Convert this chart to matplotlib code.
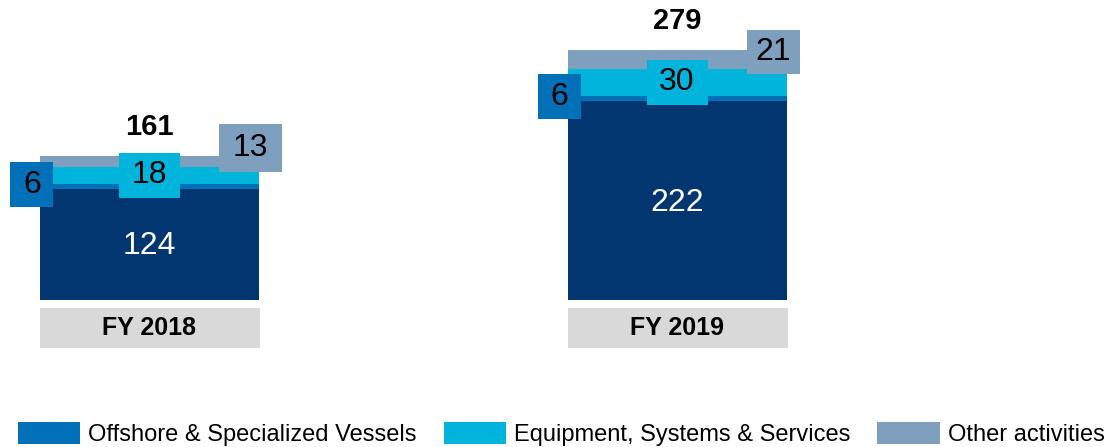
import matplotlib
matplotlib.use("Agg")
import matplotlib.pyplot as plt
from matplotlib.patches import Rectangle, Patch

plt.rcParams['font.family'] = ['Liberation Sans', 'DejaVu Sans']

# ---- data ----
categories = ["FY 2018", "FY 2019"]
base_vals = [124, 222]          # main (navy) segment
offshore_vals = [6, 6]          # Offshore & Specialized Vessels
equipment_vals = [18, 30]       # Equipment, Systems & Services
other_vals = [13, 21]           # Other activities
totals = [161, 279]
legend_labels = ["Offshore & Specialized Vessels",
                 "Equipment, Systems & Services",
                 "Other activities"]

# ---- style ----
C_NAVY = "#023670"
C_OFF = "#0070b8"
C_EQ = "#00b4dc"
C_OTH = "#7f9fbf"
C_CAT = "#d9d9d9"

W, H = 1111, 447
fig = plt.figure(figsize=(W / 100, H / 100), dpi=100)
ax = fig.add_axes([0, 0, 1, 1])
ax.axis('off')

XS = 527.5      # px per x unit
YS = 0.896      # px per value unit
X0 = 149.5      # px of first bar center
Y0 = 300        # px (from top) of baseline
ax.set_xlim(-X0 / XS, (W - X0) / XS)
ax.set_ylim(-(H - Y0) / YS, Y0 / YS)

def dx(p):
    return p / XS

def dy(p):
    return p / YS

x = [0, 1]
bw = 219 / XS

b1 = ax.bar(x, base_vals, width=bw, color=C_NAVY, linewidth=0)
bot = list(base_vals)
b2 = ax.bar(x, offshore_vals, width=bw, bottom=bot, color=C_OFF, linewidth=0,
            label=legend_labels[0])
bot2 = [a + b for a, b in zip(bot, offshore_vals)]
b3 = ax.bar(x, equipment_vals, width=bw, bottom=bot2, color=C_EQ, linewidth=0,
            label=legend_labels[1])
bot3 = [a + b for a, b in zip(bot2, equipment_vals)]
b4 = ax.bar(x, other_vals, width=bw, bottom=bot3, color=C_OTH, linewidth=0,
            label=legend_labels[2])

SEG_FS = 23

def box(cx, cy, wpx, hpx, color, text, fs=SEG_FS):
    ax.add_patch(Rectangle((cx - dx(wpx) / 2, cy - dy(hpx) / 2), dx(wpx), dy(hpx),
                           facecolor=color, edgecolor='none', zorder=5))
    ax.text(cx, cy, text, ha='center', va='center', fontsize=fs, color='black',
            zorder=6)

other_dx = [-8.5, -13.5]
other_dy = [14, 7.5]
other_w = [63, 53]
other_h = [48, 44]

for i in range(2):
    left = x[i] - bw / 2
    right = x[i] + bw / 2
    # base label
    ax.text(x[i], base_vals[i] / 2 - dy(2), str(base_vals[i]), ha='center',
            va='center', fontsize=SEG_FS, color='white')
    # offshore box
    box(left - dx(8), bot[i] + offshore_vals[i] / 2 + dy(1.5), 43, 45, C_OFF,
        str(offshore_vals[i]))
    # equipment box
    box(x[i], bot2[i] + equipment_vals[i] / 2, 61, 45, C_EQ, str(equipment_vals[i]))
    # other box
    box(right + dx(other_dx[i]), bot3[i] + other_vals[i] / 2 + dy(other_dy[i]),
        other_w[i], other_h[i], C_OTH, str(other_vals[i]))
    # total
    ax.text(x[i], totals[i] + dy(29), str(totals[i]), ha='center', va='center',
            fontsize=21, fontweight='bold', color='black')
    # category box
    ax.add_patch(Rectangle((left, -dy(48)), bw + dx(1), dy(40), facecolor=C_CAT,
                           edgecolor='none'))
    ax.text(x[i], -dy(28), categories[i], ha='center', va='center', fontsize=18,
            fontweight='bold', color='black')

handles = [Patch(facecolor=C_OFF), Patch(facecolor=C_EQ), Patch(facecolor=C_OTH)]
fig.legend(handles, legend_labels, loc='center left',
           bbox_to_anchor=(18 / W, (H - 434) / H), ncol=3, frameon=False,
           fontsize=17.0, handlelength=2.63, handleheight=1.05, handletextpad=0.34,
           columnspacing=1.15, borderpad=0, borderaxespad=0)

fig.savefig("out.png", dpi=100)
